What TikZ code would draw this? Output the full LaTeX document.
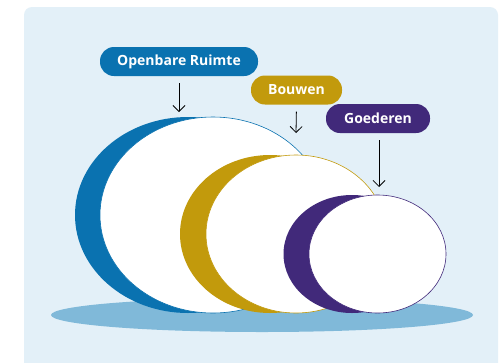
\documentclass[tikz,border=0pt]{standalone}
\usepackage{fontspec}
\setmainfont{Open Sans}
\usetikzlibrary{arrows.meta}
\definecolor{cblue}{HTML}{0A72B0}
\definecolor{cgold}{HTML}{C29A0C}
\definecolor{cpurple}{HTML}{41297A}
\definecolor{panel}{HTML}{E3F0F8}
\definecolor{shadow}{HTML}{80B9D9}
\begin{document}
\begin{tikzpicture}[x=1pt,y=-1pt,
  pill/.style={rounded corners=14pt, minimum height=29pt, text=white, font=\fontsize{14}{16}\selectfont\bfseries, inner sep=0pt},
  pointer/.style={-{Straight Barb[length=6pt,width=12pt]}, line width=0.8pt, shorten <=7pt}]
\useasboundingbox (0,0) rectangle (500,362);
\fill[white] (0,0) rectangle (500,362);
\begin{scope}
\clip (0,0) rectangle (500,362);
\fill[panel, rounded corners=8pt] (24,7) rectangle (498,375);
\end{scope}
% shadow
\fill[shadow] (262,315) ellipse [x radius=211, y radius=17];
% blue
\fill[cblue] (188,215) ellipse [x radius=113, y radius=98];
\filldraw[fill=white, draw=cblue, line width=0.6pt] (213,215) ellipse [x radius=113, y radius=98];
% gold
\fill[cgold] (270,234) ellipse [x radius=90, y radius=79];
\filldraw[fill=white, draw=cgold, line width=0.6pt] (296,234) ellipse [x radius=90, y radius=79];
% purple
\fill[cpurple] (352,254) ellipse [x radius=68.5, y radius=59];
\filldraw[fill=white, draw=cpurple, line width=0.6pt] (377.5,254) ellipse [x radius=68.5, y radius=59];
% labels
\node[pill, fill=cblue, minimum width=158pt] (open) at (179,61.5) {Openbare Ruimte};
\node[pill, fill=cgold, minimum width=91pt] (bouw) at (296.5,90) {Bouwen};
\node[pill, fill=cpurple, minimum width=104pt] (goed) at (378,118.5) {Goederen};
\coordinate (openE) at (179,112);
\coordinate (bouwE) at (296,133);
\coordinate (goedE) at (379,187);
\draw[pointer] (open.south) -- (openE);
\draw[pointer] (bouw.south) -- (bouwE);
\draw[pointer] (goed.south -| goedE) -- (goedE);
\end{tikzpicture}
\end{document}
